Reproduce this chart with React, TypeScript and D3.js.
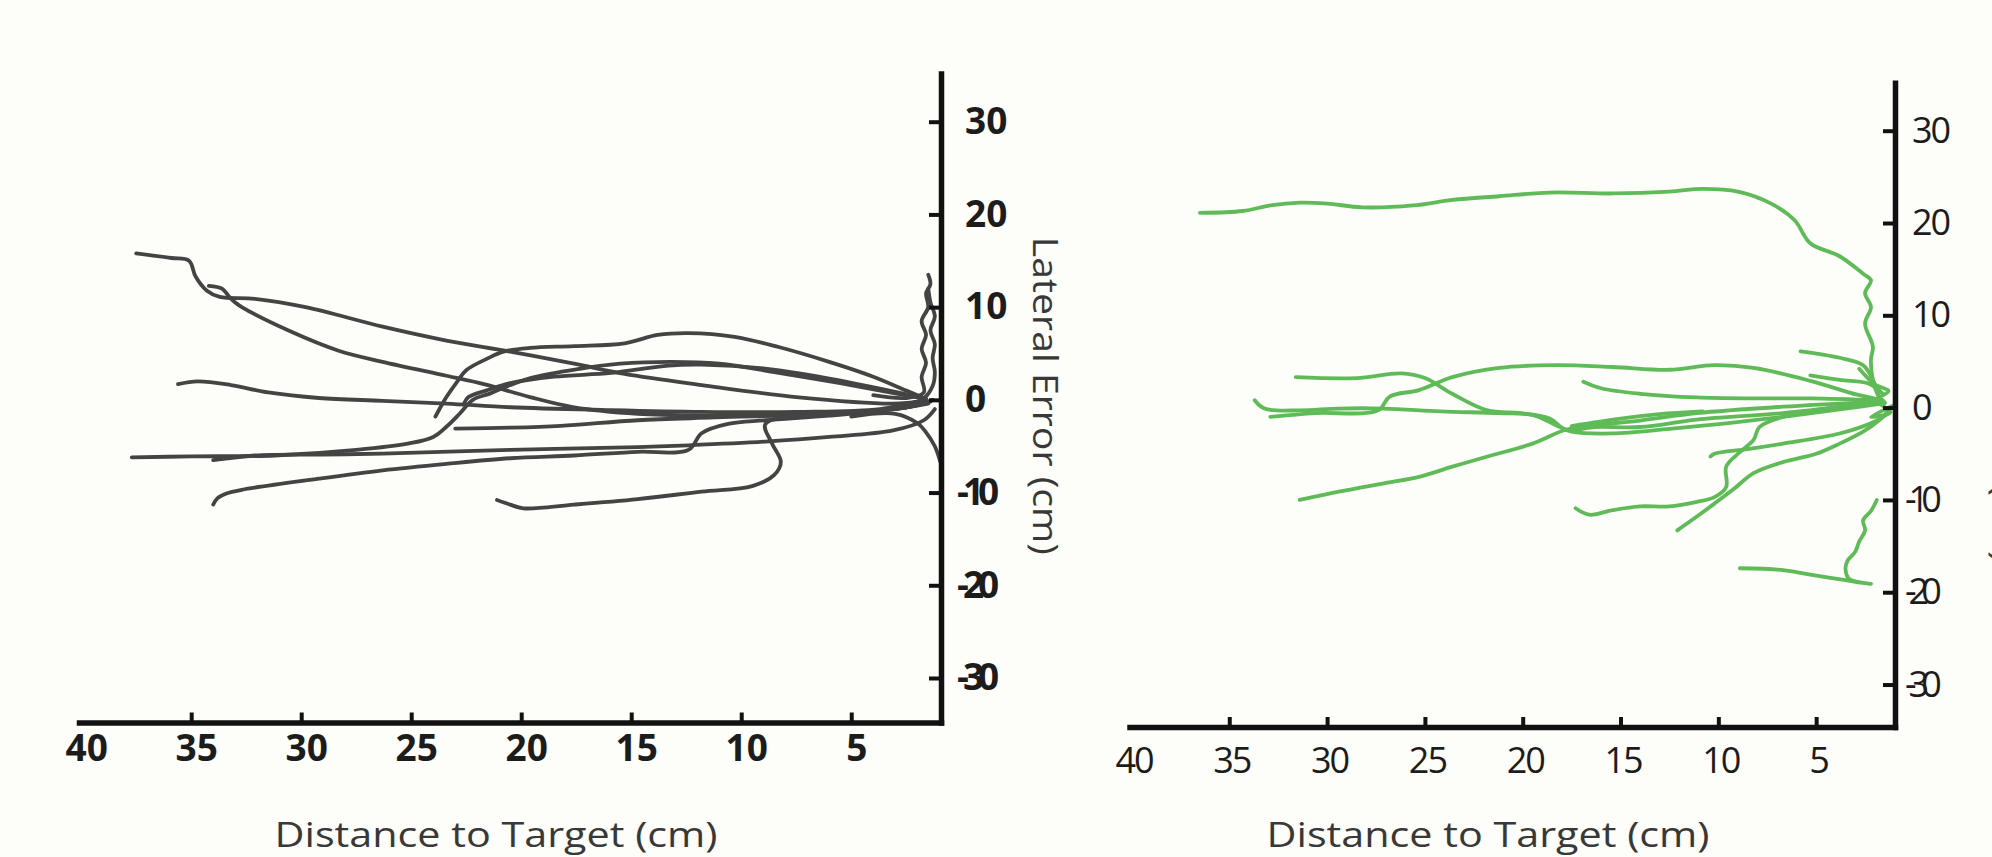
import React, { useEffect, useRef } from 'react';
import * as d3 from 'd3';

type Pt = [number, number];

// tick labels
const xTickValues = [40, 35, 30, 25, 20, 15, 10, 5];
const yTickValues = [30, 20, 10, 0, -10, -20, -30];

// left panel: [distance to target (cm), lateral error (cm)]
const gray01: Pt[] = [[37.5, 15.8], [35.9, 15.3], [35.1, 15.0], [34.8, 13.3], [34.3, 11.8], [33.7, 11.1], [32.1, 10.9], [29.8, 10.0], [26.3, 7.9], [23.4, 6.4], [20.5, 5.2], [17.6, 3.9], [15.3, 2.8], [11.8, 1.6], [7.5, 0.3], [3.1, -0.4], [1.7, -0.1]];
const gray02: Pt[] = [[34.2, 12.3], [33.6, 12.0], [33.3, 11.2], [33.0, 10.5], [32.7, 10.0], [30.6, 7.5], [28.3, 5.3], [26.3, 4.1], [23.4, 2.6], [21.7, 1.7], [19.6, 0.3], [17.6, -0.8], [14.7, -1.5], [11.5, -1.7], [8.9, -1.7], [5.5, -1.4], [2.5, -0.8], [1.5, -0.3]];
const gray03: Pt[] = [[23.9, -1.8], [23.6, -0.5], [23.4, 0.3], [22.9, 2.0], [22.5, 3.2], [21.5, 4.5], [20.8, 5.2], [19.6, 5.6], [17.6, 5.8], [15.3, 6.1], [13.8, 7.0], [12.4, 7.2], [10.3, 6.8], [8.3, 5.7], [6.0, 4.1], [4.0, 2.5], [2.5, 1.0], [1.6, 0.1]];
const gray04: Pt[] = [[22.6, -0.4], [22.4, 0.3], [21.6, 1.0], [20.5, 1.8], [18.5, 2.5], [15.9, 2.9], [13.3, 3.7], [11.8, 3.8], [9.0, 3.4], [6.0, 2.3], [3.7, 1.2], [1.9, 0.3]];
const gray05: Pt[] = [[37.7, -6.2], [35.0, -6.1], [31.2, -6.0], [27.5, -5.4], [25.1, -4.7], [24.0, -4.0], [23.4, -2.9], [22.8, -1.5], [22.2, 0.0], [21.4, 0.7], [20.5, 1.6], [19.5, 2.4], [17.5, 3.3], [15.5, 3.9], [13.2, 4.1], [11.0, 3.9], [8.5, 3.0], [5.5, 1.8], [3.0, 0.7], [1.6, 0.1]];
const gray06: Pt[] = [[35.6, 1.7], [34.7, 2.0], [33.2, 1.6], [31.5, 0.8], [29.2, 0.2], [26.3, -0.1], [23.4, -0.4], [20.5, -0.8], [16.1, -1.1], [11.8, -1.3], [7.5, -1.3], [3.7, -1.0], [2.0, -0.2]];
const gray07: Pt[] = [[23.0, -3.1], [20.5, -3.0], [18.2, -2.8], [14.7, -2.2], [11.2, -1.9], [6.0, -1.5], [2.5, -0.8], [1.4, -0.2]];
const gray08: Pt[] = [[34.0, -6.5], [32.1, -6.0], [29.0, -5.9], [26.3, -5.8], [20.5, -5.4], [14.7, -5.1], [12.4, -4.9], [8.9, -4.5], [6.0, -4.0], [3.1, -3.3], [1.7, -2.2], [1.2, -1.0]];
const gray09: Pt[] = [[34.0, -11.3], [33.8, -10.6], [33.4, -10.1], [32.7, -9.7], [29.2, -8.5], [26.3, -7.6], [23.4, -6.9], [20.5, -6.3], [17.6, -6.0], [14.7, -5.6], [12.4, -5.4], [11.8, -3.6], [10.6, -2.6], [8.9, -2.2], [6.0, -1.7], [3.0, -1.0], [1.5, -0.4]];
const gray10: Pt[] = [[21.1, -10.8], [20.5, -11.3], [19.9, -11.7], [17.6, -11.3], [14.7, -10.7], [11.8, -9.9], [9.5, -9.3], [8.5, -8.1], [8.2, -6.7], [8.6, -4.7], [8.9, -2.6], [6.0, -1.5], [2.5, -0.8], [1.3, 0.0]];
const gray11: Pt[] = [[4.0, 0.5], [2.5, 0.2], [1.7, 0.8], [1.8, 2.5], [1.6, 4.0], [1.8, 5.5], [1.6, 7.0], [1.8, 8.5], [1.5, 10.0], [1.6, 11.5], [1.4, 12.5], [1.5, 13.5]];
const gray12: Pt[] = [[3.0, -0.5], [1.8, 0.0], [1.3, 1.5], [1.2, 3.0], [1.3, 4.5], [1.2, 6.0], [1.4, 7.5], [1.2, 9.0], [1.4, 10.5], [1.5, 12.0]];
const gray13: Pt[] = [[5.0, -1.8], [3.0, -1.5], [2.0, -2.5], [1.6, -3.5], [1.2, -5.0], [0.95, -6.7]];

// right panel
const green01: Pt[] = [[36.5, 21.1], [34.3, 21.3], [32.9, 21.9], [31.4, 22.2], [30.0, 22.1], [28.2, 21.7], [25.6, 21.9], [23.6, 22.5], [21.2, 22.9], [18.6, 23.3], [15.4, 23.2], [12.5, 23.4], [10.8, 23.7], [9.0, 23.4], [7.3, 22.1], [6.1, 20.3], [5.3, 17.8], [3.8, 16.4], [2.6, 14.5], [2.2, 13.8], [2.5, 12.4], [2.2, 10.9], [2.5, 9.1], [2.1, 6.6], [2.2, 5.2], [2.1, 3.0], [1.8, 1.2], [1.5, 0.5]];
const green02: Pt[] = [[31.6, 3.3], [28.5, 3.2], [26.2, 3.7], [25.0, 3.2], [23.6, 1.5], [21.8, -0.3], [20.1, -0.6], [18.6, -1.2], [17.8, -2.4], [16.3, -2.1], [14.0, -2.1], [11.1, -1.3], [6.7, -0.6], [2.9, 0.3], [1.5, 0.6]];
const green03: Pt[] = [[33.7, 0.8], [33.2, -0.1], [31.4, -0.3], [29.4, -0.1], [27.1, -0.1], [24.2, -0.4], [21.2, -0.6], [19.5, -0.8], [18.3, -1.9], [17.5, -2.6], [15.4, -2.8], [12.5, -2.3], [9.6, -1.7], [6.7, -1.0], [3.8, -0.2], [1.5, 0.5]];
const green04: Pt[] = [[32.9, -1.0], [30.6, -0.6], [27.4, -0.3], [26.8, 1.2], [25.3, 1.9], [23.6, 3.3], [21.2, 4.3], [18.3, 4.6], [15.4, 4.4], [12.5, 4.1], [10.2, 4.6], [8.2, 4.3], [5.3, 2.9], [2.9, 1.4], [1.6, 0.8]];
const green05: Pt[] = [[16.9, 2.8], [16.0, 2.1], [14.0, 1.5], [11.1, 1.1], [8.2, 1.0], [5.3, 1.0], [1.8, 0.8]];
const green06: Pt[] = [[17.5, -2.0], [15.0, -1.2], [13.0, -0.7], [10.8, -0.4]];
const green07: Pt[] = [[31.4, -10.0], [29.4, -9.1], [27.1, -8.2], [25.3, -7.5], [23.6, -6.4], [21.8, -5.3], [19.5, -3.9], [17.8, -2.4], [16.3, -1.9], [14.0, -1.4], [11.1, -0.6], [6.7, 0.1], [2.3, 0.6]];
const green08: Pt[] = [[17.3, -10.9], [16.6, -11.6], [15.4, -11.1], [14.0, -10.7], [12.5, -10.7], [11.1, -10.2], [10.2, -9.7], [9.6, -8.6], [9.6, -6.4], [9.0, -5.0], [8.2, -3.5], [7.9, -2.1], [6.7, -1.0], [3.8, 0.1], [1.8, 0.6]];
const green09: Pt[] = [[12.1, -13.3], [11.1, -11.8], [10.2, -10.4], [9.2, -8.8], [8.2, -7.1], [6.7, -5.9], [5.0, -5.0], [3.8, -3.9], [2.6, -2.6], [1.8, -1.4], [1.3, -0.3]];
const green10: Pt[] = [[10.4, -5.3], [10.2, -5.0], [8.5, -4.5], [6.7, -3.9], [3.8, -2.8], [2.0, -1.5], [1.3, -0.6]];
const green11: Pt[] = [[8.9, -17.4], [6.7, -17.6], [5.3, -18.1], [3.5, -18.7], [2.2, -19.1], [3.3, -18.6], [3.5, -17.5], [3.4, -16.6], [3.0, -15.6], [2.8, -14.5], [2.5, -13.3], [2.6, -12.2], [2.2, -11.2], [1.9, -10.0]];
const green12: Pt[] = [[5.8, 6.1], [4.8, 5.8], [3.8, 5.4], [2.6, 4.6], [2.1, 3.0], [1.8, 1.2]];
const green13: Pt[] = [[5.3, 3.5], [3.8, 3.0], [2.3, 2.6], [1.6, 1.5]];
const green14: Pt[] = [[2.8, 4.2], [2.0, 2.5], [1.3, 1.8], [1.9, 0.8], [1.2, -0.5], [2.2, -1.0], [1.0, 0.3]];

const grayTraces = [gray01, gray02, gray03, gray04, gray05, gray06, gray07, gray08, gray09, gray10, gray11, gray12, gray13];
const greenTraces = [green01, green02, green03, green04, green05, green06, green07, green08, green09, green10, green11, green12, green13, green14];

const W = 1992;
const H = 857;
const FONT = "'Open Sans', 'DejaVu Sans', sans-serif";

const panels = [
  {
    traces: grayTraces, color: '#444444',
    xDomain: [40.1, 0.92], xRange: [79, 941],
    yDomain: [-34.8, 35.2], yRange: [722.5, 73.5],
    tickWeight: 700, tickSize: 37, tickSpacing: 0, xPad: 12, xDx: 5,
    yPad: 24, yPadNeg: 16, negSpacing: -6,
    xTitleX: 496, yTitleX: 1033,
  },
  {
    traces: greenTraces, color: '#5fbb57',
    xDomain: [40.1, 0.97], xRange: [1129.5, 1895],
    yDomain: [-34.6, 35.2], yRange: [727, 82.7],
    tickWeight: 400, tickSize: 36, tickSpacing: -2, xPad: 20, xDx: 2,
    yPad: 17, yPadNeg: 10, negSpacing: -8,
    xTitleX: 1488, yTitleX: 1994,
  },
];

const App = () => {
  const ref = useRef<SVGSVGElement>(null);

  useEffect(() => {
    const svg = d3.select(ref.current);
    svg.selectAll('*').remove();

    svg.append('rect').attr('width', W).attr('height', H).attr('fill', '#fdfdf9');

    panels.forEach((p) => {
      const x = d3.scaleLinear().domain(p.xDomain).range(p.xRange);
      const y = d3.scaleLinear().domain(p.yDomain).range(p.yRange);

      const line = d3
        .line<Pt>()
        .x((d) => x(d[0]))
        .y((d) => y(d[1]))
        .curve(d3.curveCatmullRom.alpha(0.5));

      // trajectories
      svg
        .append('g')
        .selectAll('path')
        .data(p.traces)
        .join('path')
        .attr('fill', 'none')
        .attr('stroke', p.color)
        .attr('stroke-width', 3.8)
        .attr('stroke-linejoin', 'round')
        .attr('stroke-linecap', 'round')
        .attr('d', (d) => line(d));

      // x axis, ticks pointing up into the plot
      const gx = svg
        .append('g')
        .attr('transform', `translate(0,${p.yRange[0]})`)
        .call(
          d3.axisBottom(x)
            .tickValues(xTickValues)
            .tickSizeInner(-10)
            .tickSizeOuter(0)
            .tickPadding(p.xPad)
            .tickFormat((d) => String(d))
        );
      gx.select('.domain').attr('stroke', '#111').attr('stroke-width', 5.5).attr('stroke-linecap', 'square');
      gx.selectAll('.tick line').attr('stroke', '#111').attr('stroke-width', 4);
      gx.selectAll('.tick').filter((d) => d === 40).select('line').remove();
      gx.selectAll('.tick text')
        .attr('font-family', FONT)
        .attr('font-size', p.tickSize)
        .attr('font-weight', p.tickWeight)
        .attr('letter-spacing', p.tickSpacing)
        .attr('fill', '#1c1c1c')
        .attr('dx', p.xDx);

      // y axis on the right, ticks pointing left, labels to the right
      const gy = svg
        .append('g')
        .attr('transform', `translate(${p.xRange[1]},0)`)
        .call(
          d3.axisRight(y)
            .tickValues(yTickValues)
            .tickSizeInner(-12)
            .tickSizeOuter(0)
            .tickPadding(p.yPad)
            .tickFormat((d) => String(d))
        );
      gy.select('.domain').attr('stroke', '#111').attr('stroke-width', 5.5).attr('stroke-linecap', 'square');
      gy.selectAll('.tick line').attr('stroke', '#111').attr('stroke-width', 4);
      gy.selectAll<SVGTextElement, number>('.tick text')
        .attr('font-family', FONT)
        .attr('font-size', p.tickSize)
        .attr('font-weight', p.tickWeight)
        .attr('fill', '#1c1c1c')
        .attr('x', (d) => (d < 0 ? p.yPadNeg : p.yPad))
        .attr('letter-spacing', (d) => (d < 0 ? p.negSpacing : p.tickSpacing));

      // axis titles
      svg
        .append('text')
        .attr('x', p.xTitleX)
        .attr('y', 847)
        .attr('text-anchor', 'middle')
        .attr('font-family', FONT)
        .attr('font-size', 35)
        .attr('fill', '#383838')
        .attr('textLength', 443)
        .attr('lengthAdjust', 'spacingAndGlyphs')
        .text('Distance to Target (cm)');

      svg
        .append('text')
        .attr('transform', `translate(${p.yTitleX},${y(0) - 4}) rotate(90)`)
        .attr('text-anchor', 'middle')
        .attr('font-family', FONT)
        .attr('font-size', 35)
        .attr('fill', '#383838')
        .attr('textLength', 318)
        .attr('lengthAdjust', 'spacingAndGlyphs')
        .text('Lateral Error (cm)');
    });
  }, []);

  return (
    <svg
      ref={ref}
      width={W}
      height={H}
      style={{ position: 'absolute', left: 0, top: 0, display: 'block' }}
    />
  );
};

export default App;
